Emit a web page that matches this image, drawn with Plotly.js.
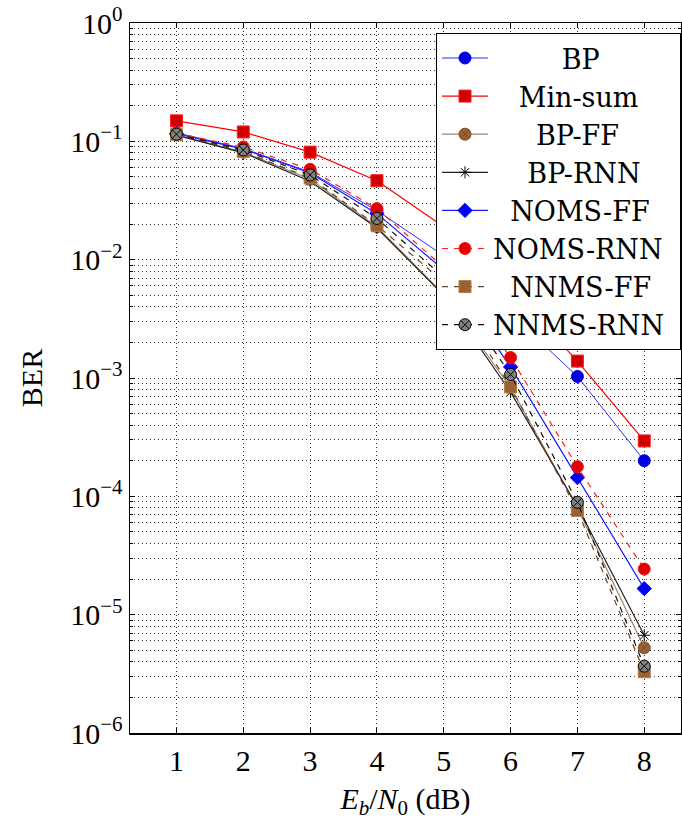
<!DOCTYPE html>
<html>
<head>
<meta charset="utf-8">
<script src="https://cdn.plot.ly/plotly-3.0.1.min.js"></script>
<style>
  html, body { margin: 0; padding: 0; background: #fff; }
  #chart { width: 682px; height: 825px; }
</style>
</head>
<body>
<div id="chart"></div>
<script>
// Eb/N0 values (dB)
const snr = [1, 2, 3, 4, 5, 6, 7, 8];

// Bit error rates of each decoder
const berBP       = [0.118, 0.087, 0.055, 0.026, 0.0108, 3.5e-3, 1.03e-3, 2.0e-4];
const berMinSum   = [0.149, 0.120, 0.081, 0.0465, 0.019, 5.6e-3, 1.39e-3, 2.94e-4];
const berBPFF     = [0.113, 0.081, 0.0478, 0.019, 5.1e-3, 8.3e-4, 8.0e-5, 5.25e-6];
const berBPRNN    = [0.113, 0.080, 0.046, 0.0185, 5.0e-3, 7.6e-4, 8.2e-5, 6.7e-6];
const berNOMSFF   = [0.116, 0.086, 0.054, 0.0245, 8.2e-3, 1.24e-3, 1.44e-4, 1.66e-5];
const berNOMSRNN  = [0.117, 0.0895, 0.058, 0.027, 8.6e-3, 1.49e-3, 1.78e-4, 2.43e-5];
const berNNMSFF   = [0.114, 0.082, 0.049, 0.0195, 6.5e-3, 8.4e-4, 7.6e-5, 3.29e-6];
const berNNMSRNN  = [0.115, 0.0845, 0.052, 0.0223, 7.1e-3, 1.07e-3, 8.9e-5, 3.67e-6];

const seriesNames = ['BP', 'Min-sum', 'BP-FF', 'BP-RNN', 'NOMS-FF', 'NOMS-RNN', 'NNMS-FF', 'NNMS-RNN'];

// Decade tick labels
const decadeExp = [-6, -5, -4, -3, -2, -1, 0];
const decadeText = decadeExp.map(e => '10<sup>' + (e < 0 ? '\u2212' + (-e) : e) + '</sup>');

const decadeVals = decadeExp.map(e => Math.pow(10, e));
const minorVals = [];
for (let e = -6; e < 0; e++) {
  for (let m = 2; m <= 9; m++) minorVals.push(m * Math.pow(10, e));
}

// Legend entries are centred in a fixed-width text column by padding with
// no-break spaces measured in the legend font.
const legendFontFamily = 'DejaVu Serif';
const legendFontSize = 27;
const legendTextWidth = 174;
function centredLabel(name) {
  const ctx = document.createElement('canvas').getContext('2d');
  ctx.font = legendFontSize + 'px "' + legendFontFamily + '"';
  const w = ctx.measureText(name).width;
  const sp = ctx.measureText('\u00A0').width || legendFontSize * 0.32;
  const n = Math.max(0, Math.round((legendTextWidth - w) / 2 / sp));
  const pad = '\u00A0'.repeat(n);
  return pad + name + pad;
}

const styles = [
  { line: { color: '#2b2bff', width: 1 }, marker: { symbol: 'circle', size: 12, color: '#0000e0', line: { color: '#0000e0', width: 1 } } },
  { line: { color: '#ff0000', width: 1.2 }, marker: { symbol: 'square', size: 12, color: '#d00000', line: { color: '#ff2020', width: 1 } } },
  { line: { color: '#a08468', width: 1.2 }, marker: { symbol: 'circle-x', size: 12, color: '#9a6232', line: { color: '#7a4a22', width: 1 } } },
  { line: { color: '#222222', width: 1.2 }, marker: { symbol: 'asterisk-open', size: 10, color: '#000000', line: { color: '#000000', width: 1 } } },
  { line: { color: '#1a1aff', width: 1.2 }, marker: { symbol: 'diamond', size: 11, color: '#0000ff', line: { color: '#0000ff', width: 1 } } },
  { line: { color: '#ff2020', width: 1.2, dash: '6px,6px' }, marker: { symbol: 'circle', size: 12, color: '#e00000', line: { color: '#ff1010', width: 1 } } },
  { line: { color: '#6b4220', width: 1.2, dash: '6px,6px' }, marker: { symbol: 'square', size: 12, color: '#9a6232', line: { color: '#b08050', width: 1 } } },
  { line: { color: '#111111', width: 1.2, dash: '6px,6px' }, marker: { symbol: 'circle-x', size: 12, color: '#808080', line: { color: '#000000', width: 1 } } }
];

const seriesData = [berBP, berMinSum, berBPFF, berBPRNN, berNOMSFF, berNOMSRNN, berNNMSFF, berNNMSRNN];

const traces = seriesData.map((ys, i) => ({
  type: 'scatter',
  mode: 'lines+markers',
  x: snr,
  y: ys,
  name: centredLabel(seriesNames[i]),
  line: styles[i].line,
  marker: styles[i].marker
}));

const serif = 'Liberation Serif, DejaVu Serif, serif';
const tickFont = { family: serif, size: 30, color: '#000' };
const gridDot = '1px,3px';

const layout = {
  width: 682,
  height: 825,
  margin: { l: 130, r: 1, t: 23, b: 92 },
  paper_bgcolor: '#fff',
  plot_bgcolor: '#fff',
  showlegend: true,
  legend: {
    x: 1, xanchor: 'right',
    y: 0.986, yanchor: 'top',
    bgcolor: '#fff',
    bordercolor: '#000',
    borderwidth: 1,
    itemwidth: 46,
    font: { family: legendFontFamily + ', serif', size: legendFontSize, color: '#000' }
  },
  xaxis: {
    range: [0.305, 8.55],
    tickvals: snr,
    ticktext: snr.map(String),
    ticks: 'inside',
    ticklen: 5,
    tickcolor: '#000',
    showline: true,
    linecolor: '#000',
    linewidth: 1.5,
    mirror: 'ticks',
    showgrid: true,
    gridcolor: '#333',
    griddash: gridDot,
    gridwidth: 1,
    zeroline: false,
    tickfont: tickFont,
    title: {
      text: '<i>E</i><sub><i>b</i></sub>/<i>N</i><sub>0</sub> (dB)',
      font: { family: serif, size: 30, color: '#000' },
      standoff: 12
    }
  },
  yaxis: {
    type: 'log',
    range: [-6, 0],
    tickvals: decadeVals,
    ticktext: decadeText,
    ticks: 'inside',
    ticklen: 5,
    tickcolor: '#000',
    showline: true,
    linecolor: '#000',
    linewidth: 1.5,
    mirror: 'ticks',
    showgrid: true,
    gridcolor: '#333',
    griddash: gridDot,
    gridwidth: 1,
    zeroline: false,
    tickfont: tickFont,
    minor: {
      tickvals: minorVals,
      ticks: 'inside',
      ticklen: 3,
      tickcolor: '#000',
      showgrid: true,
      gridcolor: '#333',
      griddash: gridDot,
      gridwidth: 1
    },
    title: {
      text: 'BER',
      font: { family: serif, size: 30, color: '#000' },
      standoff: 18
    }
  }
};

Plotly.newPlot('chart', traces, layout, { staticPlot: true, displayModeBar: false });
</script>
</body>
</html>
